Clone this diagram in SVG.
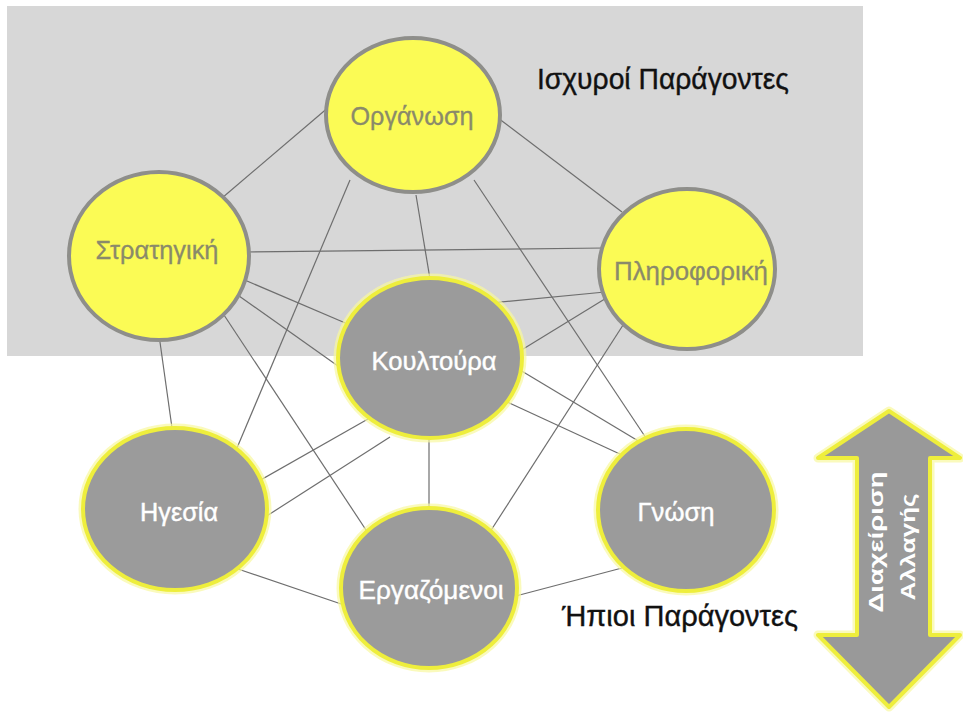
<svg xmlns="http://www.w3.org/2000/svg" width="963" height="713" viewBox="0 0 963 713">
<style>
.bg{fill:#d7d7d7}
.ln{stroke:#6e6e6e;stroke-width:1.2;fill:none}
.top{fill:#fbfb55;stroke:#8e8e8a;stroke-width:4}
.glow{fill:none;stroke:#f8f8a0;stroke-width:9;opacity:0.7}
.bot{fill:#9b9b9b;stroke:#eeee3c;stroke-width:4}
.tl{font-family:"Liberation Sans",Arial,sans-serif;font-size:25px;fill:#8a8a6a;stroke:#8a8a6a;stroke-width:0.3;text-anchor:middle}
.bl{font-family:"Liberation Sans",Arial,sans-serif;font-size:25px;fill:#ffffff;stroke:#ffffff;stroke-width:0.4;text-anchor:middle}
.title{font-family:"Liberation Sans",Arial,sans-serif;font-size:30px;fill:#111111;stroke:#111111;stroke-width:0.4}
.arr{font-family:"Liberation Sans",Arial,sans-serif;font-size:21px;font-weight:bold;fill:#ffffff;text-anchor:middle}
</style>
<rect x="0" y="0" width="963" height="713" fill="#ffffff"/>
<rect class="bg" x="7" y="6" width="856" height="350"/>
<g id="connectors">
<line class="ln" x1="330" y1="106" x2="222" y2="198"/>
<line class="ln" x1="498" y1="118" x2="622" y2="212"/>
<line class="ln" x1="350" y1="180" x2="234" y2="455"/>
<line class="ln" x1="416" y1="195" x2="431" y2="285"/>
<line class="ln" x1="474" y1="180" x2="652" y2="447"/>
<line class="ln" x1="245" y1="252" x2="605" y2="248"/>
<line class="ln" x1="240" y1="278" x2="350" y2="325"/>
<line class="ln" x1="232" y1="291" x2="345" y2="371"/>
<line class="ln" x1="222" y1="312" x2="368" y2="533"/>
<line class="ln" x1="159" y1="335" x2="173" y2="435"/>
<line class="ln" x1="490" y1="303" x2="605" y2="292"/>
<line class="ln" x1="515" y1="354" x2="608" y2="297"/>
<line class="ln" x1="625" y1="322" x2="488" y2="535"/>
<line class="ln" x1="515" y1="367" x2="645" y2="445"/>
<line class="ln" x1="505" y1="401" x2="622" y2="455"/>
<line class="ln" x1="368" y1="419" x2="250" y2="486"/>
<line class="ln" x1="390" y1="437" x2="262" y2="519"/>
<line class="ln" x1="429" y1="430" x2="429" y2="515"/>
<line class="ln" x1="235" y1="568" x2="350" y2="607"/>
<line class="ln" x1="512" y1="597" x2="622" y2="568"/>
</g>
<g id="n-organosi">
<ellipse class="top" cx="413" cy="115" rx="87" ry="77"/>
<text class="tl" x="412" y="125" textLength="123" lengthAdjust="spacingAndGlyphs">Οργάνωση</text>
</g>
<g id="n-stratigiki">
<ellipse class="top" cx="159" cy="256" rx="90" ry="84"/>
<text class="tl" x="157" y="259" textLength="123" lengthAdjust="spacingAndGlyphs">Στρατηγική</text>
</g>
<g id="n-pliroforiki">
<ellipse class="top" cx="687" cy="269" rx="88" ry="80"/>
<text class="tl" x="691" y="280" textLength="154" lengthAdjust="spacingAndGlyphs">Πληροφορική</text>
</g>
<g id="n-koultoura">
<ellipse class="glow" cx="430" cy="358" rx="92" ry="80"/>
<ellipse class="bot" cx="430" cy="358" rx="92" ry="80"/>
<text class="bl" x="434" y="370" textLength="125" lengthAdjust="spacingAndGlyphs">Κουλτούρα</text>
</g>
<g id="n-igesia">
<ellipse class="glow" cx="175" cy="509" rx="92" ry="81"/>
<ellipse class="bot" cx="175" cy="509" rx="92" ry="81"/>
<text class="bl" x="179" y="521" textLength="78" lengthAdjust="spacingAndGlyphs">Ηγεσία</text>
</g>
<g id="n-gnosi">
<ellipse class="glow" cx="686" cy="510" rx="88" ry="81"/>
<ellipse class="bot" cx="686" cy="510" rx="88" ry="81"/>
<text class="bl" x="676" y="521" textLength="77" lengthAdjust="spacingAndGlyphs">Γνώση</text>
</g>
<g id="n-ergazomenoi">
<ellipse class="glow" cx="429" cy="588" rx="88" ry="80"/>
<ellipse class="bot" cx="429" cy="588" rx="88" ry="80"/>
<text class="bl" x="431" y="599" textLength="145" lengthAdjust="spacingAndGlyphs">Εργαζόμενοι</text>
</g>
<g id="labels">
<text class="title" x="537" y="89" textLength="252" lengthAdjust="spacingAndGlyphs">Ισχυροί Παράγοντες</text>
<text class="title" x="562" y="626" textLength="236" lengthAdjust="spacingAndGlyphs">Ήπιοι Παράγοντες</text>
</g>
<g id="change-arrow">
<polygon points="889,411 960,458 930,458 930,635 960,635 889,707 818,635 857,635 857,458 818,458" fill="none" stroke="#f8f8a0" stroke-width="9" stroke-linejoin="round" opacity="0.7"/>
<polygon points="889,411 960,458 930,458 930,635 960,635 889,707 818,635 857,635 857,458 818,458" fill="#999999" stroke="#eeee3c" stroke-width="4" stroke-linejoin="round"/>
<text class="arr" transform="translate(883,542) rotate(-90)" x="0" y="0" textLength="141" lengthAdjust="spacingAndGlyphs">Διαχείριση</text>
<text class="arr" transform="translate(915,547) rotate(-90)" x="0" y="0" textLength="107" lengthAdjust="spacingAndGlyphs">Αλλαγής</text>
</g>
</svg>
